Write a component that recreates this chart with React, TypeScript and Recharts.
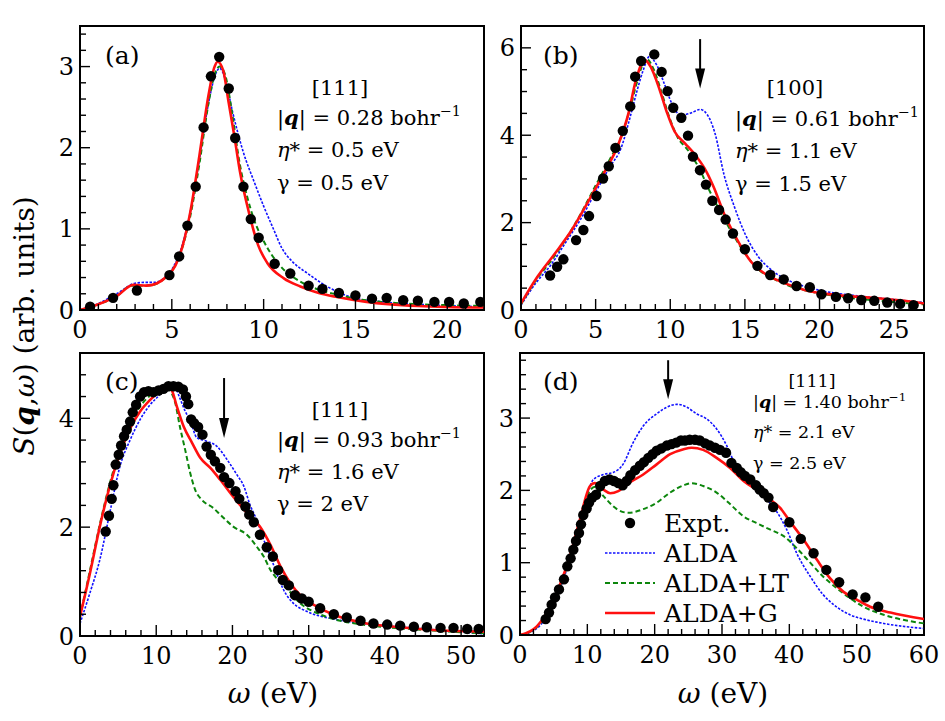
import React from 'react';
import { ComposedChart, Line, Scatter, XAxis, YAxis, ReferenceArea, ReferenceLine } from 'recharts';

type Pt = [number, number];

const FONT = '"DejaVu Serif", serif';
const BLUE = '#1010ff';
const GREEN = '#0c860c';
const RED = '#ff1010';
const W = 945;
const H = 721;
const AX = 40; // axis band size

// (a) [111], |q| = 0.28
const aExpt: Pt[] = [[0.55,0.04],[1.8,0.15],[3.1,0.24],[4.87,0.43],[5.4,0.66],[5.85,1.04],[6.3,1.52],[6.73,2.25],[7.13,2.88],[7.58,3.12],[8.1,2.73],[8.45,2.12],[8.9,1.52],[9.3,1.12],[9.73,0.89],[10.6,0.57],[11.45,0.45],[12.45,0.3],[13.2,0.26],[14.1,0.21],[15.0,0.18],[15.9,0.14],[16.7,0.15],[17.6,0.12],[18.4,0.115],[19.3,0.1],[20.1,0.1],[20.9,0.08],[21.8,0.1]];
const aAlda: Pt[] = [[0,0],[1,0.08],[2,0.2],[3,0.33],[3.5,0.34],[4,0.34],[4.5,0.38],[5,0.5],[5.5,0.75],[6,1.2],[6.5,1.85],[7,2.55],[7.3,2.85],[7.6,2.98],[7.9,2.85],[8.3,2.45],[8.9,1.94],[9.45,1.6],[10,1.28],[10.55,0.99],[11,0.76],[11.55,0.6],[12.4,0.45],[13.45,0.29],[14.9,0.15],[16.5,0.1],[19.3,0.06],[22,0.04]];
const aAldaLT: Pt[] = [[0,0],[1,0.07],[2,0.17],[2.8,0.3],[3.5,0.3],[4,0.31],[4.5,0.37],[5,0.48],[5.5,0.72],[6,1.15],[6.5,1.8],[7,2.55],[7.3,2.88],[7.6,3.0],[7.9,2.9],[8.3,2.4],[8.7,1.8],[9.1,1.4],[9.5,1.1],[10,0.85],[10.5,0.66],[11,0.52],[12,0.35],[13,0.25],[14,0.19],[15,0.14],[17,0.09],[20,0.06],[22,0.05]];
const aAldaG: Pt[] = [[0,0],[1,0.07],[2,0.17],[2.9,0.31],[3.6,0.3],[4.2,0.33],[4.7,0.41],[5.2,0.55],[5.6,0.8],[6,1.2],[6.5,1.9],[7,2.65],[7.3,2.98],[7.5,3.06],[7.8,2.95],[8.1,2.55],[8.4,2.15],[8.7,1.72],[9.2,1.2],[9.7,0.8],[10.2,0.58],[11.1,0.39],[12,0.29],[13,0.21],[14,0.16],[15.6,0.1],[18.4,0.05],[22,0.03]];

// (b) [100], |q| = 0.61
const bExpt: Pt[] = [[1.95,0.79],[2.42,0.99],[2.84,1.16],[3.69,1.6],[4.18,1.83],[4.56,2.15],[5.06,2.61],[5.5,3.01],[5.88,3.29],[6.33,3.71],[6.82,4.1],[7.32,4.66],[7.65,5.34],[8.05,5.7],[8.93,5.85],[9.42,5.45],[9.82,5.01],[10.2,4.63],[10.74,4.4],[11.19,3.99],[11.52,3.51],[11.99,3.2],[12.39,2.87],[12.82,2.5],[13.27,2.29],[13.71,2.07],[14.2,1.75],[15.0,1.39],[15.84,1.01],[16.7,0.8],[17.6,0.7],[18.46,0.55],[19.35,0.52],[20.13,0.36],[21.1,0.3],[21.92,0.27],[22.8,0.23],[23.67,0.21],[24.54,0.17],[25.4,0.14],[26.3,0.11]];
const bAlda: Pt[] = [[0,0.11],[1,0.62],[2,1.03],[3,1.55],[4,2.08],[5,2.7],[6,3.3],[6.7,3.7],[7.3,4.4],[7.8,5.05],[8.2,5.5],[8.6,5.8],[9.1,5.6],[9.6,5.18],[10.1,4.73],[10.7,4.46],[11.4,4.51],[12,4.59],[12.5,4.46],[13,4.04],[13.6,3.1],[14.3,2.36],[15,1.75],[15.9,1.22],[16.8,0.91],[18.1,0.65],[19.9,0.46],[22.4,0.33],[25,0.24],[27,0.17]];
const bAldaLT: Pt[] = [[0,0.13],[1,0.68],[2,1.12],[3,1.62],[4,2.2],[5,2.85],[6,3.48],[6.7,3.95],[7.3,4.6],[7.8,5.25],[8.4,5.75],[8.9,5.5],[9.4,5.0],[9.9,4.45],[10.5,3.95],[11.2,3.65],[12,3.2],[12.6,2.75],[13.2,2.35],[14,1.85],[15,1.3],[16,0.9],[17,0.7],[18,0.55],[20,0.38],[22,0.28],[25,0.18],[27,0.13]];
const bAldaG: Pt[] = [[0,0.15],[1.1,0.76],[2.2,1.26],[3.4,1.83],[4.5,2.48],[5.6,3.16],[6.5,3.77],[7.2,4.5],[7.7,5.26],[8.3,5.72],[8.7,5.56],[9.3,5.03],[9.8,4.5],[10.3,4.08],[11,3.81],[11.6,3.58],[12.3,3.24],[12.9,2.82],[13.6,2.21],[14.5,1.6],[15.4,1.11],[16.3,0.84],[17.7,0.61],[19,0.46],[21.2,0.34],[23.5,0.28],[25.7,0.21],[27,0.15]];

// (c) [111], |q| = 0.93
const cExpt: Pt[] = [[3.37,1.92],[3.8,2.21],[4.16,2.52],[4.38,2.77],[4.68,3.15],[5.08,3.33],[5.39,3.5],[5.78,3.67],[6.13,3.79],[6.57,3.94],[6.92,4.11],[7.36,4.25],[7.88,4.4],[8.4,4.48],[8.98,4.5],[9.63,4.48],[10.3,4.51],[10.95,4.54],[11.6,4.59],[12.26,4.59],[12.9,4.58],[13.5,4.53],[13.9,4.4],[14.2,4.26],[14.58,3.98],[14.97,3.91],[15.5,3.84],[16.07,3.7],[16.6,3.48],[17.16,3.33],[17.7,3.21],[18.4,3.09],[18.9,2.92],[19.6,2.81],[20.4,2.66],[20.9,2.52],[21.7,2.38],[22.2,2.23],[22.8,2.09],[23.6,1.86],[24.5,1.63],[25.3,1.46],[26,1.21],[26.6,1.03],[27.4,0.93],[28.2,0.75],[29.1,0.69],[30,0.63],[31.5,0.51],[33.3,0.4],[35,0.34],[36.8,0.28],[38.5,0.23],[40.3,0.21],[42,0.19],[43.8,0.17],[45.5,0.16],[47.3,0.15],[49,0.15],[50.8,0.13],[52.3,0.13]];
const cAlda: Pt[] = [[0,0.23],[1.3,0.79],[2.6,1.4],[3.9,2.26],[5.25,3.12],[6.6,3.61],[7.9,3.98],[9.2,4.25],[10.5,4.44],[11.6,4.65],[12.3,4.62],[13.1,4.37],[13.8,4.13],[14.5,3.94],[15.3,3.65],[16.6,3.58],[18,3.48],[19.3,3.24],[20.6,2.96],[21.5,2.75],[22.3,2.41],[23.2,2.13],[24.1,1.77],[25,1.46],[25.8,1.15],[26.7,0.85],[28,0.6],[29.8,0.45],[33.3,0.31],[37.6,0.22],[44.2,0.14],[53,0.04]];
const cAldaLT: Pt[] = [[0,0.35],[1.3,1.2],[2.6,2.05],[3.9,2.8],[5.25,3.42],[6.6,3.9],[7.9,4.22],[9.2,4.42],[10.5,4.55],[11.3,4.6],[12,4.47],[12.5,4.28],[13.1,3.85],[13.8,3.42],[14.45,3.0],[15.1,2.69],[16,2.5],[17.5,2.35],[18.4,2.23],[20.1,2.01],[21.9,1.86],[23.2,1.64],[24.1,1.46],[25,1.21],[25.8,1.06],[27.1,0.88],[28.9,0.6],[31.1,0.42],[33.3,0.31],[37.6,0.2],[44.2,0.12],[53,0.05]];
const cAldaG: Pt[] = [[0,0.36],[1.3,1.15],[2.6,2.01],[3.9,2.75],[5.25,3.36],[6.6,3.82],[7.9,4.13],[9.2,4.34],[10.5,4.5],[11.4,4.59],[12,4.53],[12.7,4.22],[13.6,3.85],[14.7,3.55],[15.8,3.27],[17.1,3.09],[18.4,2.87],[20.1,2.56],[21.9,2.26],[23.6,2.01],[25,1.67],[26.3,1.28],[27.6,0.97],[28.9,0.75],[31.1,0.54],[33.3,0.39],[37.6,0.23],[42,0.16],[46.4,0.11],[53,0.08]];

// (d) [111], |q| = 1.40
const dExpt: Pt[] = [[3.81,0.22],[4.31,0.31],[4.7,0.42],[5.2,0.52],[5.79,0.63],[6.53,0.77],[7.03,0.95],[7.52,1.06],[7.92,1.18],[8.32,1.3],[8.76,1.41],[9.06,1.53],[9.4,1.66],[9.9,1.75],[10.25,1.83],[10.74,1.9],[11.3,1.94],[11.9,2.06],[12.6,2.13],[13.3,2.15],[13.96,2.13],[14.6,2.1],[15.25,2.07],[15.84,2.13],[16.4,2.21],[17.1,2.28],[17.8,2.34],[18.4,2.39],[19.06,2.45],[19.7,2.5],[20.3,2.55],[21,2.58],[21.8,2.62],[22.5,2.64],[23.2,2.66],[23.9,2.69],[24.5,2.69],[25.2,2.7],[26,2.7],[26.7,2.69],[27.5,2.65],[28.2,2.62],[28.96,2.59],[29.7,2.56],[30.6,2.52],[31.4,2.38],[32.2,2.31],[32.8,2.25],[33.4,2.2],[34.2,2.15],[35.05,2.07],[35.6,2.01],[36.2,1.96],[36.9,1.9],[37.6,1.77],[40,1.56],[41.7,1.33],[43.6,1.13],[45.5,0.9],[47.4,0.73],[49.4,0.56],[51.3,0.52],[53.2,0.39]];
const dAlda: Pt[] = [[0,0],[2.5,0.09],[5,0.44],[7.4,1.04],[9.4,1.74],[10.9,2.15],[12.4,2.22],[13.9,2.25],[15.3,2.36],[16.8,2.66],[18.3,2.89],[20.3,3.06],[21.8,3.15],[23.3,3.19],[24.8,3.15],[26.2,3.06],[27.7,2.99],[29.2,2.85],[30.7,2.62],[32.2,2.31],[33.7,2.15],[35.1,2.02],[36.6,1.88],[38.1,1.71],[39.6,1.46],[41.1,1.13],[43.1,0.81],[45,0.56],[47,0.39],[49,0.28],[51,0.22],[54,0.16],[60,0.09]];
const dAldaLT: Pt[] = [[0,0],[2.5,0.11],[5,0.47],[7.4,1.07],[8.9,1.58],[10.4,2.0],[11.2,2.05],[12.4,1.92],[14.4,1.74],[16.1,1.69],[18.3,1.74],[20.3,1.83],[22.3,1.97],[24.3,2.07],[25.5,2.1],[27.2,2.06],[29.2,1.97],[31.2,1.81],[33.2,1.64],[35.1,1.55],[37.1,1.46],[39.1,1.37],[41.1,1.2],[43.1,1.0],[45,0.81],[47,0.65],[49,0.51],[51,0.39],[54,0.28],[60,0.16]];
const dAldaG: Pt[] = [[0,0],[2.5,0.12],[5,0.49],[7.4,1.09],[8.9,1.6],[10.4,2.06],[11.1,2.1],[12.4,2.01],[13.4,1.96],[14.6,1.99],[16.3,2.11],[18.3,2.22],[20.3,2.36],[22.3,2.5],[24.3,2.57],[25.5,2.59],[27.2,2.56],[29.2,2.45],[31.2,2.31],[33.2,2.13],[35.1,2.01],[37.1,1.88],[38.6,1.76],[40.1,1.57],[42.1,1.32],[44.1,1.04],[46,0.79],[48,0.6],[50,0.49],[52,0.39],[55,0.31],[60,0.22]];

// major tick labels per panel
const aXMajor = [0, 5, 10, 15, 20];
const aYMajor = [0, 1, 2, 3];
const bXMajor = [0, 5, 10, 15, 20, 25];
const bYMajor = [0, 2, 4, 6];
const cXMajor = [0, 10, 20, 30, 40, 50];
const cYMajor = [0, 2, 4];
const dXMajor = [0, 10, 20, 30, 40, 50, 60];
const dYMajor = [0, 1, 2, 3];

const toXY = (pts: Pt[]) => pts.map(([x, y]) => ({ x, y }));

const makeTicks = (max: number, step: number) => {
  const out: number[] = [];
  for (let i = 0; i * step <= max + 1e-9; i++) out.push(+(i * step).toFixed(3));
  return out;
};

const isIn = (list: number[], v: number) => list.some(m => Math.abs(m - v) < 1e-6);

const makeXTick = (major: number[]) => (props: any) => {
  const { x, y, payload } = props;
  const big = isIn(major, payload.value);
  return (
    <g>
      <line x1={x} y1={y} x2={x} y2={y - (big ? 11 : 6)} stroke="#000" strokeWidth={1.4} />
      {big && (
        <text x={x} y={y + 28} textAnchor="middle" fontFamily={FONT} fontSize={24} fill="#000">
          {payload.value}
        </text>
      )}
    </g>
  );
};

const makeYTick = (major: number[]) => (props: any) => {
  const { x, y, payload } = props;
  const big = isIn(major, payload.value);
  return (
    <g>
      <line x1={x} y1={y} x2={x + (big ? 10 : 6)} y2={y} stroke="#000" strokeWidth={1.4} />
      {big && (
        <text x={x - 6} y={y + 8.5} textAnchor="end" fontFamily={FONT} fontSize={24} fill="#000">
          {payload.value}
        </text>
      )}
    </g>
  );
};

const ExptDot = (props: any) => <circle cx={props.cx} cy={props.cy} r={5.2} fill="#000" />;

const Arrow = (props: any) => {
  const { x1, y1, x2, y2 } = props;
  const top = Math.min(y1, y2);
  const bot = Math.max(y1, y2);
  return (
    <g>
      <line x1={x1} y1={top} x2={x2} y2={bot - 12} stroke="#000" strokeWidth={2} />
      <path d={`M${x2 - 5},${bot - 20} L${x2 + 5},${bot - 20} L${x2},${bot} Z`} fill="#000" />
    </g>
  );
};

interface PanelDef {
  left: number; right: number; top: number; bottom: number;
  xMax: number; yMax: number;
  xMajor: number[]; yMajor: number[];
  xStep: number; yStep: number;
  expt: Pt[]; alda: Pt[]; lt: Pt[]; g: Pt[];
  arrow?: { x: number; y1: number; y2: number };
}

const panels: PanelDef[] = [
  { left: 80, right: 484, top: 26, bottom: 310, xMax: 22, yMax: 3.5, xMajor: aXMajor, yMajor: aYMajor, xStep: 1, yStep: 0.2, expt: aExpt, alda: aAlda, lt: aAldaLT, g: aAldaG },
  { left: 521, right: 924, top: 26, bottom: 310, xMax: 27, yMax: 6.5, xMajor: bXMajor, yMajor: bYMajor, xStep: 1, yStep: 0.5, expt: bExpt, alda: bAlda, lt: bAldaLT, g: bAldaG, arrow: { x: 12, y1: 6.2, y2: 5.07 } },
  { left: 80, right: 484, top: 353, bottom: 636, xMax: 53, yMax: 5.2, xMajor: cXMajor, yMajor: cYMajor, xStep: 2, yStep: 0.4, expt: cExpt, alda: cAlda, lt: cAldaLT, g: cAldaG, arrow: { x: 18.9, y1: 4.74, y2: 3.64 } },
  { left: 520, right: 924, top: 353, bottom: 635, xMax: 60, yMax: 3.9, xMajor: dXMajor, yMajor: dYMajor, xStep: 2, yStep: 0.2, expt: dExpt, alda: dAlda, lt: dAldaLT, g: dAldaG, arrow: { x: 22, y1: 3.8, y2: 3.26 } },
];

function Panel({ p }: { p: PanelDef }) {
  return (
    <div style={{ position: 'absolute', left: 0, top: 0 }}>
      <ComposedChart
        width={W}
        height={H}
        margin={{ top: p.top, left: p.left - AX, right: W - p.right, bottom: H - p.bottom - AX }}
      >
        <XAxis
          type="number" dataKey="x" domain={[0, p.xMax]} allowDataOverflow
          ticks={makeTicks(p.xMax, p.xStep)} interval={0}
          height={AX} tickSize={0} tickMargin={0} tickLine={false}
          axisLine={{ stroke: '#000', strokeWidth: 2 }}
          tick={makeXTick(p.xMajor)}
        />
        <YAxis
          type="number" dataKey="y" domain={[0, p.yMax]} allowDataOverflow
          ticks={makeTicks(p.yMax, p.yStep)} interval={0}
          width={AX} tickSize={0} tickMargin={0} tickLine={false}
          axisLine={{ stroke: '#000', strokeWidth: 2 }}
          tick={makeYTick(p.yMajor)}
        />
        <ReferenceArea x1={0} x2={p.xMax} y1={0} y2={p.yMax} fill="none" stroke="#000" strokeWidth={2} ifOverflow="visible" />
        <Scatter data={toXY(p.expt)} shape={ExptDot} isAnimationActive={false} />
        <Line data={toXY(p.alda)} dataKey="y" type="monotone" stroke={BLUE} strokeWidth={1.6} strokeDasharray="2.5 1.5" dot={false} isAnimationActive={false} />
        <Line data={toXY(p.lt)} dataKey="y" type="monotone" stroke={GREEN} strokeWidth={2} strokeDasharray="5 3" dot={false} isAnimationActive={false} />
        <Line data={toXY(p.g)} dataKey="y" type="monotone" stroke={RED} strokeWidth={2.6} dot={false} isAnimationActive={false} />
        {p.arrow && (
          <ReferenceLine
            segment={[{ x: p.arrow.x, y: p.arrow.y1 }, { x: p.arrow.x, y: p.arrow.y2 }]}
            shape={Arrow}
            ifOverflow="visible"
          />
        )}
      </ComposedChart>
    </div>
  );
}

const Q = () => <tspan fontWeight="bold" fontStyle="italic">q</tspan>;

function Params({ x, y, size, gap, q, eta, gamma }: { x: number; y: number; size: number; gap: number; q: string; eta: string; gamma: string }) {
  return (
    <g fontFamily={FONT} fontSize={size} fill="#000">
      <text x={x} y={y}>
        |<Q />| = {q} bohr<tspan fontSize={size * 0.68} dy={-size * 0.42}>−1</tspan>
      </text>
      <text x={x} y={y + gap}>
        <tspan fontStyle="italic">η</tspan>* = {eta} eV
      </text>
      <text x={x} y={y + gap * 2.03}>γ = {gamma} eV</text>
    </g>
  );
}

function Overlay() {
  return (
    <svg width={W} height={H} style={{ position: 'absolute', left: 0, top: 0, pointerEvents: 'none' }}>
      <g fontFamily={FONT} fill="#000">
        <text x={105} y={64} fontSize={25}>(a)</text>
        <text x={543} y={64} fontSize={25}>(b)</text>
        <text x={105} y={390} fontSize={25}>(c)</text>
        <text x={543} y={390} fontSize={25}>(d)</text>

        <text x={340} y={95} fontSize={21} textAnchor="middle">[111]</text>
        <text x={795} y={95} fontSize={21} textAnchor="middle">[100]</text>
        <text x={340} y={417} fontSize={21} textAnchor="middle">[111]</text>
        <text x={812} y={387} fontSize={17.5} textAnchor="middle">[111]</text>
      </g>
      <Params x={277} y={125} size={21} gap={32} q="0.28" eta="0.5" gamma="0.5" />
      <Params x={735} y={126} size={21} gap={32} q="0.61" eta="1.1" gamma="1.5" />
      <Params x={277} y={447} size={21} gap={31.5} q="0.93" eta="1.6" gamma="2" />
      <Params x={753} y={408} size={17.5} gap={30} q="1.40" eta="2.1" gamma="2.5" />

      <text transform="translate(34,326) rotate(-90)" textAnchor="middle" fontFamily={FONT} fontSize={28} fill="#000">
        <tspan fontStyle="italic">S</tspan>(<tspan fontWeight="bold" fontStyle="italic">q</tspan>,<tspan fontStyle="italic">ω</tspan>)  (arb. units)
      </text>
      <text x={273} y={703} textAnchor="middle" fontFamily={FONT} fontSize={28} fill="#000">
        <tspan fontStyle="italic">ω</tspan> (eV)
      </text>
      <text x={723} y={703} textAnchor="middle" fontFamily={FONT} fontSize={28} fill="#000">
        <tspan fontStyle="italic">ω</tspan> (eV)
      </text>

      <g fontFamily={FONT} fontSize={25} fill="#000">
        <circle cx={630} cy={523} r={5.2} fill="#000" />
        <text x={664} y={532}>Expt.</text>
        <line x1={605} y1={553} x2={655} y2={553} stroke={BLUE} strokeWidth={1.6} strokeDasharray="2.5 1.5" />
        <text x={664} y={562}>ALDA</text>
        <line x1={605} y1={583} x2={655} y2={583} stroke={GREEN} strokeWidth={2} strokeDasharray="5 3" />
        <text x={664} y={592}>ALDA+LT</text>
        <line x1={605} y1={613} x2={655} y2={613} stroke={RED} strokeWidth={2.6} />
        <text x={664} y={622}>ALDA+G</text>
      </g>
    </svg>
  );
}

export default function App() {
  return (
    <div style={{ position: 'absolute', left: 0, top: 0, width: W, height: H, background: '#fff' }}>
      {panels.map((p, i) => <Panel key={i} p={p} />)}
      <Overlay />
    </div>
  );
}
